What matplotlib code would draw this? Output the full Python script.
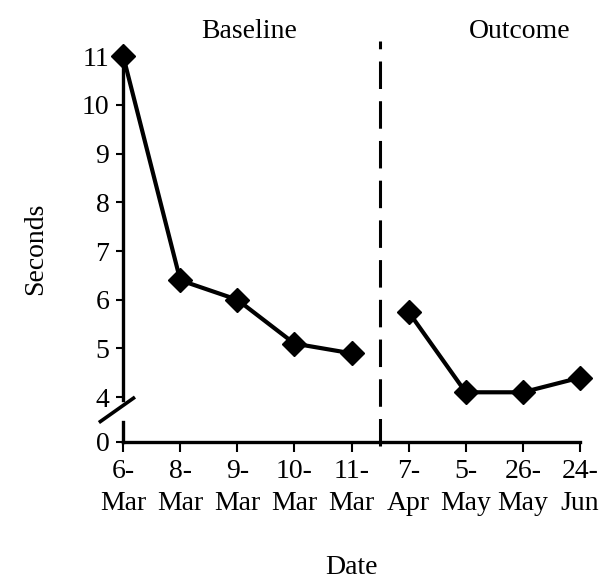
import matplotlib.pyplot as plt

plt.rcParams['font.family'] = ['Liberation Serif', 'DejaVu Serif']

# data
dates = ["6-\nMar", "8-\nMar", "9-\nMar", "10-\nMar", "11-\nMar",
         "7-\nApr", "5-\nMay", "26-\nMay", "24-\nJun"]
baseline = [11, 6.4, 6.0, 5.1, 4.9]
outcome = [5.75, 4.1, 4.1, 4.4]
y_ticks = [4, 5, 6, 7, 8, 9, 10, 11]

zero_pos = 3.08  # where "0" sits below the axis break
fs = 20

fig = plt.figure(figsize=(6.04, 5.8), dpi=100)
ax = fig.add_axes([0.204, 0.238, 0.756, 0.665])

xb = list(range(len(baseline)))
xo = list(range(len(baseline), len(baseline) + len(outcome)))
style = dict(color="black", lw=3, marker="D", ms=12, clip_on=False, zorder=3)
ax.plot(xb, baseline, **style)
ax.plot(xo, outcome, **style)

# phase change line
ax.axvline(4.5, ymin=-0.01, ymax=1.04, color="black", lw=2.2,
           dashes=(9, 4), clip_on=False)

ax.set_xlim(0, len(dates) - 1)
ax.set_ylim(zero_pos, 11)
ax.set_xticks(range(len(dates)))
ax.set_xticklabels(dates, fontsize=fs, linespacing=1.4)
ax.set_yticks([zero_pos] + y_ticks)
ax.set_yticklabels(["0"] + [str(t) for t in y_ticks], fontsize=fs)
ax.tick_params(axis="x", direction="out", length=7, width=1.5, pad=5)
ax.tick_params(axis="y", direction="out", length=5, width=1.5, pad=5)

for s in ["top", "right"]:
    ax.spines[s].set_visible(False)
ax.spines["bottom"].set_linewidth(2.4)
ax.spines["left"].set_linewidth(2.4)
ax.spines["left"].set_bounds(3.94, 11)

# lower stub of the broken y axis and break slash
ax.plot([0, 0], [zero_pos, 3.5], color="black", lw=2.4, clip_on=False)
ax.plot([-0.4, 0.18], [3.5, 3.98], color="black", lw=2.6, clip_on=False)

ax.set_ylabel("Seconds", fontsize=fs, labelpad=24)
ax.set_xlabel("Date", fontsize=fs, labelpad=28)

ax.text(2.2, 1.065, "Baseline", transform=ax.get_xaxis_transform(),
        ha="center", va="center", fontsize=fs)
ax.text(6.95, 1.065, "Outcome", transform=ax.get_xaxis_transform(),
        ha="center", va="center", fontsize=fs)

fig.savefig("out.png", dpi=100)
